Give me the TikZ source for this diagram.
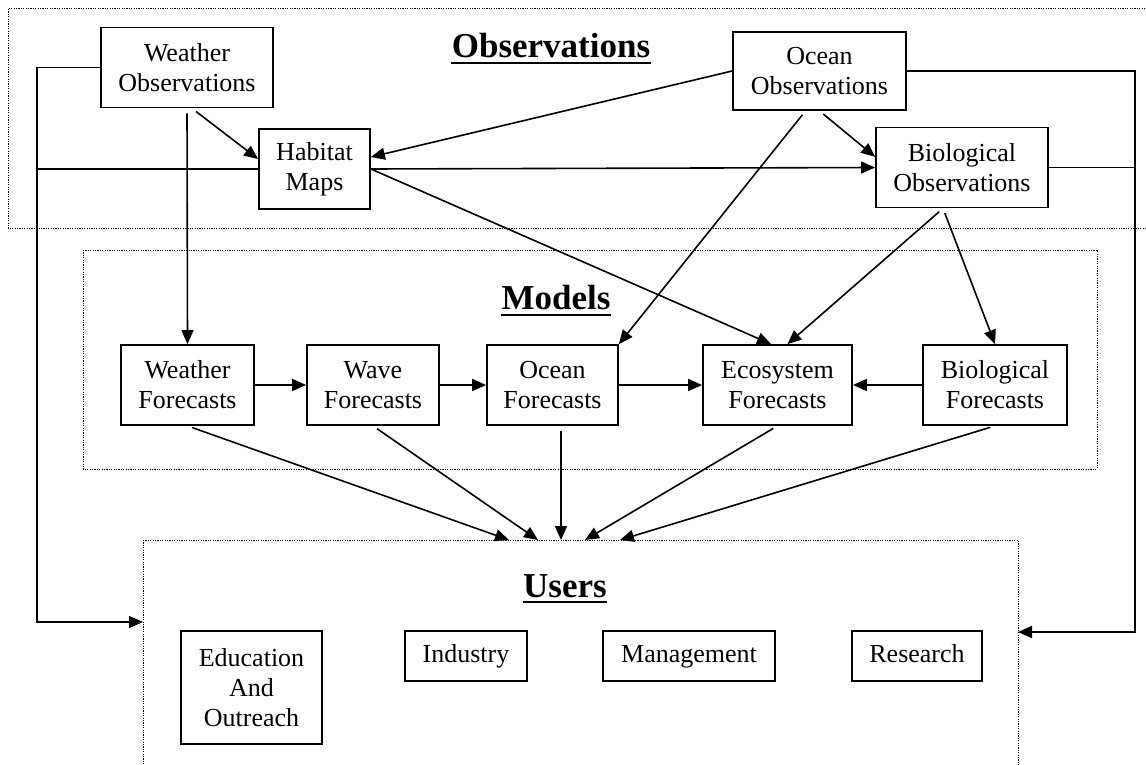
\documentclass[tikz,border=0pt]{standalone}
\usepackage{fontspec}
\setmainfont{Liberation Serif}
\usetikzlibrary{arrows.meta}

\begin{document}
\begin{tikzpicture}[
  x=0.5pt, y=-0.5pt,
  box/.style={draw, line width=0.9pt, align=center, minimum height=40pt,
              font=\fontsize{13}{15}\selectfont, inner sep=2pt},
  userbox/.style={box, minimum height=25pt, text height=9pt, text depth=3pt},
  region/.style={line width=0.5pt, dash pattern=on 0.6pt off 0.6pt},
  title/.style={font=\fontsize{17.5}{20}\selectfont\bfseries, inner sep=0pt},
  link/.style={line width=0.8pt},
  arr/.style={link, -{Triangle[length=7pt, width=6pt]}},
  gap/.style={shorten <=2.5pt},
]
  \def\fy{385} % forecast row
  \def\uy{656} % user row

  \useasboundingbox (0,0) rectangle (1146,765);
  \clip (0,0) rectangle (1146,765);

  % --- regions ---
  \draw[region] (8,9) rectangle (1170,228);
  \draw[region] (83,250) rectangle (1097,469);
  \draw[region] (143,540) rectangle (1018,790);

  \node[title] (tobs) at (551,46) {Observations};
  \node[title] (tmod) at (556,298) {Models};
  \node[title] (tusr) at (565,586) {Users};
  \foreach \ttl in {tobs,tmod,tusr} {
    \draw[line width=1.2pt] ([yshift=-2.5pt]\ttl.base west) -- ([yshift=-2.5pt]\ttl.base east);
  }

  % observation boxes
  \node[box, minimum width=86pt] (wobs) at (187,67.5) {Weather\\Observations};
  \node[box, minimum width=55.5pt] (hab) at (314.5,169) {Habitat\\Maps};
  \node[box, minimum width=86.5pt, minimum height=39pt] (oobs) at (819.5,71) {Ocean\\Observations};
  \node[box, minimum width=86pt] (bobs) at (962,167.5) {Biological\\Observations};

  % forecast boxes
  \node[box, minimum width=66.5pt] (wfc) at (187.5,\fy) {Weather\\Forecasts};
  \node[box, minimum width=66pt] (wav) at (373,\fy) {Wave\\Forecasts};
  \node[box, minimum width=65.5pt] (ofc) at (552.5,\fy) {Ocean\\Forecasts};
  \node[box, minimum width=74.5pt] (eco) at (777.5,\fy) {Ecosystem\\Forecasts};
  \node[box, minimum width=72pt] (bfc) at (995,\fy) {Biological\\Forecasts};

  % user boxes
  \node[box, minimum width=70.5pt, minimum height=56.5pt] (edu) at (251.5,687.5) {Education\\And\\Outreach};
  \node[userbox, minimum width=61pt] (ind) at (466,\uy) {Industry};
  \node[userbox, minimum width=86pt] (man) at (689,\uy) {Management};
  \node[userbox, minimum width=65pt] (res) at (917,\uy) {Research};

  % observations feed
  \draw[arr, gap] (wobs.south) -- (wfc.north);
  \draw[arr, gap] ([xshift=2.5pt]wobs.south) -- (hab.170);
  \draw[arr] (oobs.west) -- (hab.12);
  \draw[arr, gap] (oobs.south) -- (bobs.173);
  \draw[arr, gap] ([xshift=-7pt]oobs.south) -- (ofc.north east);
  \draw[arr] (hab.east) -- (bobs.west);
  \draw[arr] (hab.east) -- ([xshift=-3.25pt]eco.north);
  \draw[arr, gap] ([xshift=-9.5pt]bobs.south) -- ([xshift=5pt]eco.north);
  \draw[arr, gap] ([xshift=-9.5pt]bobs.south) -- (bfc.north);

  % model chain
  \draw[arr] (wfc.east) -- (wav.west);
  \draw[arr] (wav.east) -- (ofc.west);
  \draw[arr] (ofc.east) -- (eco.west);
  \draw[arr] (bfc.west) -- (eco.east);

  % models to users
  \foreach \i/\ux in {1/509, 2/538, 3/561, 4/585, 5/620}
    \coordinate (u\i) at (\ux,540);
  \draw[arr, gap] (wfc.south) -- (u1);
  \draw[arr, gap] (wav.south) -- (u2);
  \draw[arr, gap] ([xshift=4.25pt]ofc.south) -- (u3);
  \draw[arr, gap] (eco.south) -- (u4);
  \draw[arr, gap] (bfc.south) -- (u5);

  % side buses
  \coordinate (lbus) at (37,622);
  \coordinate (uwest) at (143,622);
  \draw[arr] (wobs.west) -| (lbus) -- (uwest);
  \draw[link] (lbus |- hab.west) -- (hab.west);
  \coordinate (rbus) at (1135,632);
  \coordinate (ueast) at (1018,632);
  \draw[arr] (oobs.east) -| (rbus) -- (ueast);
  \draw[link] (bobs.east) -- (bobs.east -| rbus);

\end{tikzpicture}
\end{document}
